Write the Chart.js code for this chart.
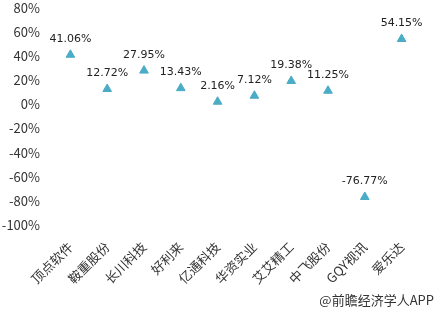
<!DOCTYPE html>
<html>
<head>
<meta charset="utf-8">
<script src="https://cdn.jsdelivr.net/npm/chart.js@4/dist/chart.umd.min.js"></script>
<style>
  html, body { margin: 0; padding: 0; background: #fff; overflow: hidden; }
  #wrap { position: relative; width: 437px; height: 312px; overflow: hidden; }
  #chart { position: absolute; left: 0; top: -4px; }
  #source {
    position: absolute; right: 3px; bottom: 3px;
    font: 13px "Noto Sans CJK SC", sans-serif; color: #333;
  }
</style>
</head>
<body>
<div id="wrap">
  <canvas id="chart" width="437" height="316"></canvas>
  <div id="source">@前瞻经济学人APP</div>
</div>
<script>
const categories = ["顶点软件", "鞍重股份", "长川科技", "好利来", "亿通科技", "华资实业", "艾艾精工", "中飞股份", "GQY视讯", "爱乐达"];
const growth = [41.06, 12.72, 27.95, 13.43, 2.16, 7.12, 19.38, 11.25, -76.77, 54.15];
const yTicks = [80, 60, 40, 20, 0, -20, -40, -60, -80, -100];

// Beschriftung über den Dreiecken
const valueLabels = {
    id: "valueLabels",
    afterDatasetsDraw(chart) {
        const ctx = chart.ctx;
        const meta = chart.getDatasetMeta(0);
        ctx.save();
        ctx.font = "11px 'DejaVu Sans', sans-serif";
        ctx.fillStyle = "#222";
        ctx.textAlign = "center";
        ctx.textBaseline = "bottom";
        meta.data.forEach((pt, i) => {
            ctx.fillText(growth[i].toFixed(2) + "%", pt.x, pt.y - 10);
        });
        ctx.restore();
    }
};

new Chart(document.getElementById("chart"), {
    type: "line",
    data: {
        labels: categories,
        datasets: [{
            data: growth,
            showLine: false,
            pointStyle: "triangle",
            pointRadius: 5,
            pointHoverRadius: 5,
            backgroundColor: "#4BACC6",
            borderColor: "#4BACC6",
            borderWidth: 1
        }]
    },
    options: {
        responsive: false,
        animation: false,
        layout: { padding: { top: 0, right: 17, bottom: 0, left: 0 } },
        plugins: { legend: { display: false }, tooltip: { enabled: false } },
        scales: {
            x: {
                offset: true,
                grid: { display: false },
                border: { display: false },
                afterFit: axis => { axis.height = 87; },
                ticks: {
                    minRotation: 45,
                    maxRotation: 45,
                    padding: 6,
                    color: "#333",
                    font: { family: "'Noto Sans CJK SC'", size: 13 }
                }
            },
            y: {
                min: -100,
                max: 80,
                afterBuildTicks: axis => { axis.ticks = yTicks.map(v => ({ value: v })); },
                afterFit: axis => { axis.width = 52; },
                grid: { display: false },
                border: { display: false },
                ticks: {
                    padding: 4,
                    color: "#333",
                    font: { family: "'Noto Sans CJK SC'", size: 13 },
                    callback: v => v + "%"
                }
            }
        }
    },
    plugins: [valueLabels]
});
</script>
</body>
</html>
